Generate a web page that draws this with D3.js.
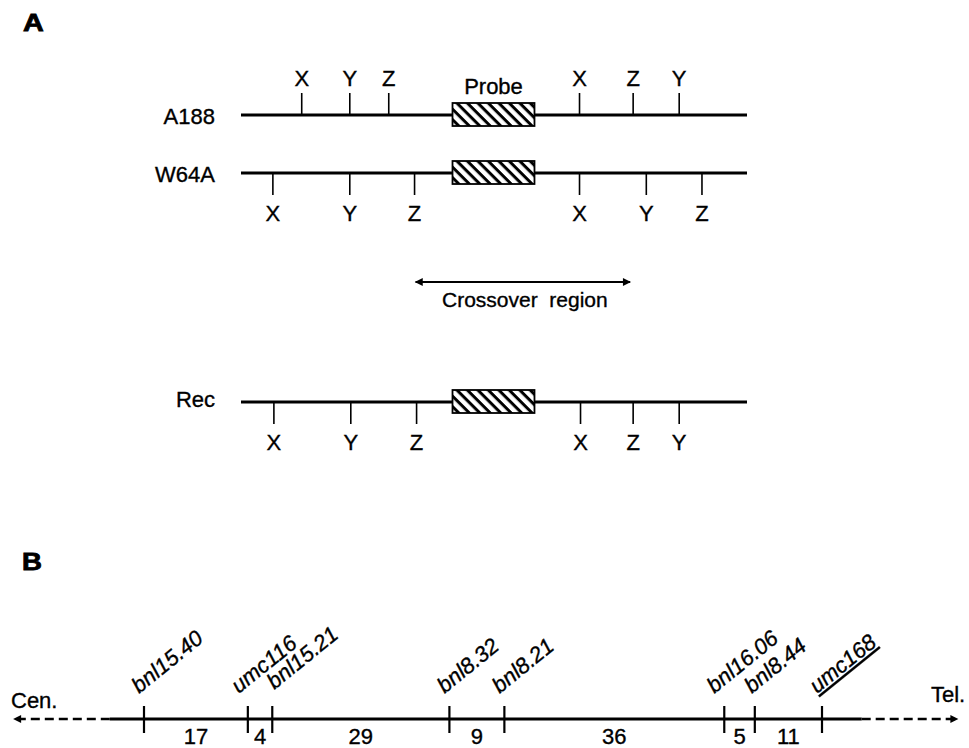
<!DOCTYPE html>
<html>
<head>
<meta charset="utf-8">
<script src="https://cdn.jsdelivr.net/npm/d3@7"></script>
<style>
  body { margin: 0; background: #fff; }
  svg text { font-family: "Liberation Sans", Arial, Helvetica, sans-serif; fill: #000; stroke: #000; stroke-width: 0.35px; }
</style>
</head>
<body>
<div id="chart"></div>
<script>
(function (d3) {
    'use strict';

    // ---- data ----
    // panel A: restriction maps, site positions in map units along each line (0-100)
    var rowNames = ["A188", "W64A", "Rec"];
    var a188Sites = [["X", 12.0], ["Y", 21.5], ["Z", 29.2], ["X", 66.9], ["Z", 77.5], ["Y", 86.6]];
    var w64aSites = [["X", 6.3], ["Y", 21.5], ["Z", 34.3], ["X", 66.9], ["Y", 80.1], ["Z", 91.1]];
    var recSites = [["X", 6.5], ["Y", 21.7], ["Z", 34.7], ["X", 67.1], ["Z", 77.5], ["Y", 86.6]];
    var probeSpan = [41.8, 58.0];
    var crossoverSpan = [34.5, 76.9];

    // panel B: marker order and distances between neighbours (cM)
    var markers = ["bnl15.40", "umc116", "bnl15.21", "bnl8.32", "bnl8.21", "bnl16.06", "bnl8.44", "umc168"];
    var intervals = [17, 4, 29, 9, 36, 5, 11];
    var underlined = ["umc168"];

    // small label nudges where neighbouring markers crowd each other (px)
    var labelNudge = { "umc116": [-4, 0], "bnl15.21": [7, -4], "bnl16.06": [-5, 0], "bnl8.44": [2, 0] };

    var svgWidth = 969;
    var svgHeight = 748;
    var fs = 22;

    var svg = d3.select("#chart")
        .append("svg")
        .attr("width", svgWidth)
        .attr("height", svgHeight);

    var defs = svg.append("defs");

    // diagonal hatch for the probe
    var hatch = defs.append("pattern")
        .attr("id", "hatch")
        .attr("patternUnits", "userSpaceOnUse")
        .attr("width", 7.4)
        .attr("height", 7.4)
        .attr("patternTransform", "rotate(45)");
    hatch.append("rect").attr("width", 7.4).attr("height", 7.4).attr("fill", "#fff");
    hatch.append("rect").attr("width", 7.4).attr("height", 3).attr("fill", "#000");

    // arrow head
    defs.append("marker")
        .attr("id", "head")
        .attr("viewBox", "0 0 10 10")
        .attr("refX", 9)
        .attr("refY", 5)
        .attr("markerWidth", 9)
        .attr("markerHeight", 8)
        .attr("markerUnits", "userSpaceOnUse")
        .attr("orient", "auto-start-reverse")
        .append("path")
        .attr("d", "M0,0L10,5L0,10Z")
        .attr("fill", "#000");

    // ---- panel A ----
    var xA = d3.scaleLinear().domain([0, 100]).range([241, 747]);
    var yA = d3.scaleOrdinal().domain(rowNames).range([115, 173, 402]);
    var sitesByRow = { "A188": a188Sites, "W64A": w64aSites, "Rec": recSites };
    var sideByRow = { "A188": -1, "W64A": 1, "Rec": 1 };

    svg.append("text")
        .attr("transform", "translate(23,31) scale(1.25,1)")
        .attr("font-size", 23)
        .attr("font-weight", "bold")
        .style("stroke-width", "0.8px")
        .text("A");

    var row = svg.selectAll(".row")
        .data(rowNames)
        .enter()
        .append("g")
        .attr("class", "row")
        .attr("transform", function (d) { return "translate(0," + yA(d) + ")"; });

    row.append("text")
        .attr("x", 215)
        .attr("y", function (d) { return d === "Rec" ? 5 : 9; })
        .attr("text-anchor", "end")
        .attr("font-size", fs)
        .text(function (d) { return d; });

    row.append("line")
        .attr("x1", xA(0))
        .attr("x2", xA(100))
        .attr("stroke", "#000")
        .attr("stroke-width", 2.8);

    // restriction sites
    row.each(function (r) {
        var g = d3.select(this);
        var side = sideByRow[r];
        var site = g.selectAll(".site")
            .data(sitesByRow[r])
            .enter()
            .append("g")
            .attr("transform", function (d) { return "translate(" + xA(d[1]) + ",0)"; });
        site.append("line")
            .attr("y1", 0)
            .attr("y2", side * 22)
            .attr("stroke", "#000")
            .attr("stroke-width", 1.6);
        site.append("text")
            .attr("y", side < 0 ? -29 : 48)
            .attr("text-anchor", "middle")
            .attr("font-size", fs)
            .text(function (d) { return d[0]; });
    });

    // probe box
    row.append("rect")
        .attr("x", xA(probeSpan[0]))
        .attr("y", -12)
        .attr("width", xA(probeSpan[1]) - xA(probeSpan[0]))
        .attr("height", 23)
        .attr("fill", "url(#hatch)")
        .attr("stroke", "#000")
        .attr("stroke-width", 1.8);

    svg.append("text")
        .attr("x", (xA(probeSpan[0]) + xA(probeSpan[1])) / 2)
        .attr("y", 94)
        .attr("text-anchor", "middle")
        .attr("font-size", fs)
        .text("Probe");

    // crossover region
    svg.append("line")
        .attr("x1", xA(crossoverSpan[0]))
        .attr("x2", xA(crossoverSpan[1]))
        .attr("y1", 282)
        .attr("y2", 282)
        .attr("stroke", "#000")
        .attr("stroke-width", 2.2)
        .attr("marker-start", "url(#head)")
        .attr("marker-end", "url(#head)");

    svg.append("text")
        .attr("x", (xA(crossoverSpan[0]) + xA(crossoverSpan[1])) / 2 + 2)
        .attr("y", 307)
        .attr("text-anchor", "middle")
        .attr("font-size", 21)
        .attr("xml:space", "preserve")
        .text("Crossover  region");

    // ---- panel B ----
    var positions = [0].concat(Array.from(d3.cumsum(intervals)));
    var xB = d3.scaleLinear().domain([0, d3.sum(intervals)]).range([144, 822]);
    var axisY = 719;

    svg.append("text")
        .attr("transform", "translate(22,570) scale(1.2,1)")
        .attr("font-size", 23)
        .attr("font-weight", "bold")
        .style("stroke-width", "0.8px")
        .text("B");

    // dashed ends toward centromere and telomere
    svg.append("line")
        .attr("x1", xB(-5.6)).attr("x2", xB(-21.3))
        .attr("y1", axisY).attr("y2", axisY)
        .attr("stroke", "#000").attr("stroke-width", 2.4)
        .attr("stroke-dasharray", "9,5")
        .attr("marker-end", "url(#head)");
    svg.append("line")
        .attr("x1", xB(117.5)).attr("x2", xB(133.2))
        .attr("y1", axisY).attr("y2", axisY)
        .attr("stroke", "#000").attr("stroke-width", 2.4)
        .attr("stroke-dasharray", "9,5")
        .attr("marker-end", "url(#head)");

    svg.append("line")
        .attr("x1", xB(-5.6)).attr("x2", xB(117.5))
        .attr("y1", axisY).attr("y2", axisY)
        .attr("stroke", "#000").attr("stroke-width", 3);

    svg.append("text")
        .attr("x", 11).attr("y", 708)
        .attr("font-size", fs)
        .text("Cen.");
    svg.append("text")
        .attr("x", 931).attr("y", 702)
        .attr("font-size", fs)
        .text("Tel.");

    var marker = svg.selectAll(".marker")
        .data(markers)
        .enter()
        .append("g")
        .attr("class", "marker")
        .attr("transform", function (d, i) { return "translate(" + xB(positions[i]) + "," + axisY + ")"; });

    marker.append("line")
        .attr("y1", -13)
        .attr("y2", 14)
        .attr("stroke", "#000")
        .attr("stroke-width", 2.2);

    marker.append("text")
        .attr("transform", function (d) {
            var n = labelNudge[d] || [0, 0];
            return "translate(" + (-5 + n[0]) + "," + (-25 + n[1]) + ") rotate(-39)";
        })
        .attr("font-size", 22)
        .attr("font-style", "italic")
        .style("text-decoration", function (d) { return underlined.indexOf(d) >= 0 ? "underline" : null; })
        .text(function (d) { return d; });

    // distances between neighbouring markers
    svg.selectAll(".dist")
        .data(intervals)
        .enter()
        .append("text")
        .attr("class", "dist")
        .attr("x", function (d, i) { return xB((positions[i] + positions[i + 1]) / 2); })
        .attr("y", 744)
        .attr("text-anchor", "middle")
        .attr("font-size", fs)
        .text(function (d) { return d; });
})(window.d3);
</script>
</body>
</html>
